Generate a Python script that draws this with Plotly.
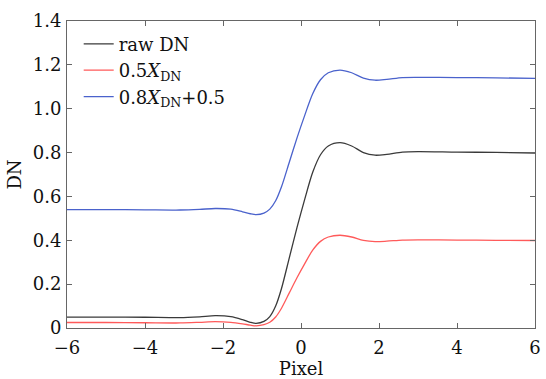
import plotly.graph_objects as go

pixel = [-6, -5, -4, -3.1, -2.6, -2.2, -1.8, -1.5, -1.3, -1.15, -0.95, -0.8, -0.65, -0.5, -0.3, -0.1,
         0.1, 0.3, 0.5, 0.7, 1.0, 1.3, 1.6, 1.9, 2.2, 2.6, 3.0, 4.0, 5.0, 6.0]

raw_dn = [0.050, 0.050, 0.049, 0.047, 0.051, 0.056, 0.052, 0.038, 0.026, 0.021, 0.030, 0.052, 0.100, 0.180,
          0.320, 0.460, 0.590, 0.710, 0.790, 0.830, 0.845, 0.830, 0.800, 0.788, 0.792, 0.802, 0.804,
          0.802, 0.801, 0.798]

half_dn = [0.025, 0.025, 0.024, 0.023, 0.026, 0.029, 0.026, 0.019, 0.013, 0.010, 0.015, 0.026, 0.050, 0.090,
           0.160, 0.230, 0.295, 0.355, 0.395, 0.415, 0.423, 0.415, 0.400, 0.394, 0.396, 0.401, 0.402,
           0.401, 0.400, 0.399]

scaled_dn = [0.540, 0.540, 0.539, 0.538, 0.541, 0.545, 0.542, 0.530, 0.521, 0.517, 0.524, 0.542, 0.580,
             0.644, 0.756, 0.868, 0.972, 1.068, 1.132, 1.164, 1.176, 1.164, 1.140, 1.130, 1.134, 1.142,
             1.143, 1.142, 1.141, 1.138]

names = ["raw DN", "0.5<i>X</i><sub>DN</sub>", "0.8<i>X</i><sub>DN</sub>+0.5"]
colors = ["#3a3a3a", "#ff5a5a", "#4a62cc"]

x_ticks = [-6, -4, -2, 0, 2, 4, 6]
x_labels = ["\u22126", "\u22124", "\u22122", "0", "2", "4", "6"]
y_ticks = [0, 0.2, 0.4, 0.6, 0.8, 1.0, 1.2, 1.4]
y_labels = ["0", "0.2", "0.4", "0.6", "0.8", "1.0", "1.2", "1.4"]

fig = go.Figure()
for ys, nm, c in zip([raw_dn, half_dn, scaled_dn], names, colors):
    fig.add_trace(go.Scatter(x=pixel, y=ys, name=nm, mode="lines",
                             line=dict(color=c, width=1.3, shape="spline", smoothing=0.8)))

font = dict(family="DejaVu Serif", size=18, color="#111")
axis_common = dict(showline=True, linecolor="#666", linewidth=1, mirror="ticks", ticks="inside",
                   ticklen=5, tickcolor="#666", showgrid=False, zeroline=False, tickfont=font,
                   ticklabeloverflow="allow")

fig.update_layout(
    width=546, height=379,
    margin=dict(l=67, r=5, t=21, b=50),
    paper_bgcolor="white", plot_bgcolor="white",
    font=font,
    showlegend=True,
    legend=dict(x=0.025, y=0.985, xanchor="left", yanchor="top", bgcolor="rgba(0,0,0,0)",
                font=dict(family="DejaVu Serif", size=18, color="#111"), tracegroupgap=0,
                itemwidth=30),
    xaxis=dict(range=[-6, 6], tickvals=x_ticks, ticktext=x_labels, ticklabelstandoff=3,
               title=dict(text="Pixel", font=font, standoff=4), **axis_common),
    yaxis=dict(range=[0, 1.4], tickvals=y_ticks, ticktext=y_labels, ticklabelstandoff=1,
               title=dict(text="DN", font=font, standoff=6), **axis_common),
)

fig.write_html("out.html")
